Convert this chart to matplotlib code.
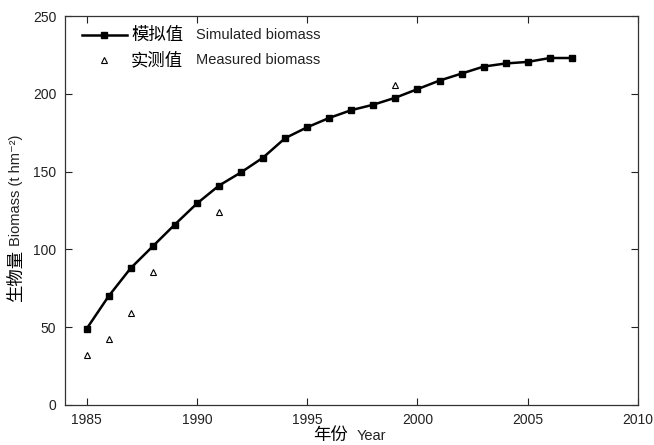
import matplotlib
matplotlib.use("Agg")
import matplotlib.pyplot as plt
from matplotlib.lines import Line2D

plt.rcParams['font.family'] = ['Liberation Sans', 'Noto Sans CJK SC', 'DejaVu Sans']

# simulated biomass, 1985-2007
sim_years = list(range(1985, 2008))
sim_biomass = [49, 70, 88, 102, 116, 129.5, 141, 149.5, 159, 171.5, 178.5, 184.5,
               189.5, 193, 197.5, 203, 208.5, 213, 217.5, 219.5, 220.5, 223, 223]

# field measurements
meas_years = [1985, 1986, 1987, 1988, 1991, 1999]
meas_biomass = [32, 42.5, 59, 85.5, 124, 205.5]

xticks = [1985, 1990, 1995, 2000, 2005, 2010]
yticks = [0, 50, 100, 150, 200, 250]

cjk = ['Noto Sans CJK SC']

fig = plt.figure(figsize=(6.54, 4.45), dpi=100)
ax = fig.add_axes([64.6/654, 40/445, (638-64.6)/654, (405-16)/445])

ax.plot(sim_years, sim_biomass, '-s', color='black', lw=1.8, ms=4.2,
        mfc='black', mec='black')
ax.plot(meas_years, meas_biomass, '^', ls='none', color='black', ms=4.5,
        mfc='none', mew=0.8)

ax.set_xlim(1984, 2010)
ax.set_ylim(0, 250)
ax.set_xticks(xticks)
ax.set_yticks(yticks)
ax.tick_params(direction='in', length=5, width=0.8, top=True, right=True,
               labelsize=10, colors='#222222', pad=6)
for s in ax.spines.values():
    s.set_linewidth(0.9)
    s.set_color('#333333')

tr = ax.transAxes

# axis titles: Chinese part a bit larger than the English part
ax.text(0.433, -0.090, '年份', transform=tr, fontsize=12.5, family=cjk,
        ha='left', va='baseline', clip_on=False)
ax.text(0.510, -0.090, 'Year', transform=tr, fontsize=10.5, color='#222222',
        ha='left', va='baseline', clip_on=False)
ax.text(-0.085, 0.266, '生物量', transform=tr, fontsize=12.5, family=cjk,
        rotation=90, rotation_mode='anchor', ha='left', va='center', clip_on=False)
ax.text(-0.084, 0.408, 'Biomass (t hm\u207b\u00b2)', transform=tr, fontsize=10.5,
        color='#222222', rotation=90, rotation_mode='anchor', ha='left',
        va='center', clip_on=False)

# legend keys and labels
ax.add_line(Line2D([0.030, 0.108], [0.951, 0.951], transform=tr, color='black',
                   lw=1.8, clip_on=False))
ax.add_line(Line2D([0.069], [0.951], transform=tr, marker='s', ms=4.2,
                   color='black', clip_on=False))
ax.add_line(Line2D([0.069], [0.887], transform=tr, marker='^', ms=4.5,
                   mfc='none', mec='black', mew=0.8, ls='none', clip_on=False))
for y, cn, en in [(0.951, '模拟值', 'Simulated biomass'),
                  (0.887, '实测值', 'Measured biomass')]:
    ax.text(0.116, y, cn, transform=tr, fontsize=12.5, va='center', family=cjk)
    ax.text(0.229, y, en, transform=tr, fontsize=10.5, va='center', color='#222222')

fig.savefig('out.png', dpi=100)
